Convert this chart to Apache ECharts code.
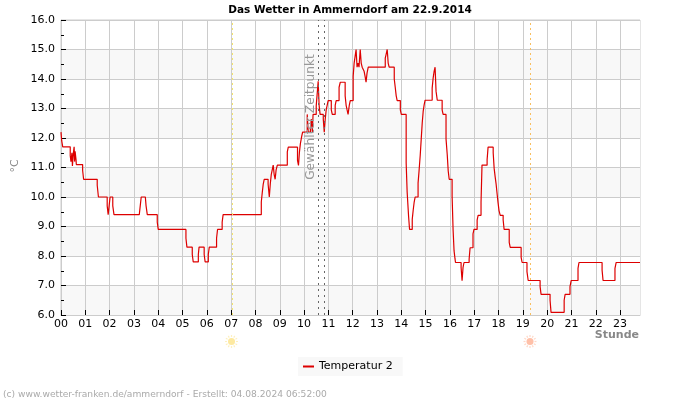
<!DOCTYPE html>
<html><head><meta charset="utf-8">
<style>html,body{margin:0;padding:0;background:#fff}#c{width:700px;height:400px}</style>
<script src="https://cdn.jsdelivr.net/npm/echarts@6/dist/echarts.min.js"></script>
</head><body><div id="c"></div>
<script>
const hourTicks = ['00','01','02','03','04','05','06','07','08','09','10','11','12','13','14','15','16','17','18','19','20','21','22','23'];
const hours = [0,0.03,0.07,0.38,0.41,0.45,0.47,0.51,0.54,0.56,0.58,0.62,0.63,0.89,0.93,0.97,1.49,1.54,1.58,1.9,1.94,1.98,2.02,2.1,2.13,2.18,3.22,3.26,3.3,3.47,3.5,3.55,3.96,4.0,4.05,5.14,5.18,5.22,5.4,5.44,5.48,5.65,5.68,5.73,5.89,5.93,5.97,6.06,6.1,6.14,6.4,6.44,6.48,6.63,6.67,6.72,8.24,8.28,8.32,8.36,8.4,8.52,8.57,8.61,8.65,8.69,8.73,8.77,8.81,8.85,8.9,9.31,9.35,9.39,9.73,9.77,9.81,9.85,9.9,9.94,9.98,10.13,10.17,10.26,10.3,10.34,10.37,10.5,10.58,10.62,10.66,10.79,10.83,10.87,10.91,10.95,10.99,11.12,11.16,11.28,11.32,11.44,11.49,11.69,11.73,11.77,11.81,11.86,11.9,12.02,12.06,12.1,12.14,12.18,12.22,12.26,12.31,12.35,12.39,12.47,12.51,12.55,12.59,12.64,13.34,13.38,13.42,13.46,13.5,13.71,13.75,13.79,13.83,13.96,14.0,14.2,14.24,14.3,14.34,14.45,14.49,14.53,14.57,14.69,14.73,14.78,14.82,14.86,14.9,14.94,14.98,15.27,15.31,15.35,15.39,15.43,15.48,15.68,15.72,15.84,15.89,15.93,15.97,16.09,16.13,16.17,16.21,16.23,16.46,16.5,16.54,16.58,16.79,16.83,16.95,16.99,17.12,17.16,17.28,17.32,17.53,17.57,17.78,17.82,17.86,17.9,17.94,17.98,18.02,18.07,18.19,18.23,18.44,18.48,18.93,18.97,19.17,19.22,19.71,19.75,20.12,20.16,20.7,20.74,20.94,20.99,21.27,21.31,22.26,22.3,22.79,22.84,23.82];
const temps = [12.2,11.9,11.7,11.4,11.2,11.5,11.05,11.5,11.7,11.2,11.55,11.25,11.1,10.9,10.6,10.6,10.4,10.0,10.0,9.7,9.4,9.7,10.0,10.0,9.7,9.4,9.4,9.7,10.0,10.0,9.7,9.4,9.15,8.9,8.9,8.6,8.3,8.3,8.05,7.8,7.8,8.05,8.3,8.3,8.05,7.8,7.8,8.05,8.3,8.3,8.6,8.9,8.9,9.15,9.4,9.4,9.83,10.15,10.44,10.6,10.6,10.44,10.0,10.44,10.76,10.92,11.08,10.76,10.6,10.92,11.08,11.53,11.69,11.69,11.24,11.07,11.53,11.82,12.05,12.2,12.2,12.8,12.2,12.35,12.64,12.2,12.8,13.09,13.92,13.09,12.8,12.64,12.2,12.64,12.95,13.11,13.27,12.95,12.8,13.11,13.27,13.72,13.89,13.43,13.11,12.95,12.8,13.11,13.27,14.09,14.54,14.54,15.0,14.4,14.54,14.4,15.0,14.54,14.4,14.26,14.09,13.89,14.2,14.4,14.71,14.85,15.0,14.54,14.4,14.0,13.72,13.43,13.27,12.95,12.8,11.15,10.18,9.34,8.9,9.24,9.56,9.83,10.0,10.47,10.88,11.43,11.97,12.5,12.9,13.12,13.28,13.69,14.03,14.26,14.4,13.58,13.28,12.95,12.8,11.97,11.43,10.88,10.6,10.03,8.9,8.18,7.9,7.78,7.61,7.16,7.61,7.78,7.89,8.28,8.75,8.9,9.22,9.38,9.81,11.08,11.26,11.69,11.5,10.97,10.69,10.44,10.12,9.81,9.54,9.38,9.22,8.9,8.46,8.29,7.95,7.78,7.47,7.17,6.96,6.7,6.5,6.09,6.5,6.7,6.96,7.17,7.58,7.78,7.52,7.17,7.58,7.78,7.78];
const sunriseHour = 7.04, sunsetHour = 19.3, selectedHours = [10.58, 10.83];
const seriesName = 'Temperatur 2';
const titleText = 'Das Wetter in Ammerndorf am 22.9.2014';
const footer = '(c) www.wetter-franken.de/ammerndorf - Erstellt: 04.08.2024 06:52:00';
const font = '"DejaVu Sans"';

function sun(cx, cy, core, ray) {
  const kids = [{type:'circle', shape:{cx, cy, r:3.5}, style:{fill:core}, silent:true}];
  for (let a = 0; a < 12; a++) {
    const t = a * Math.PI / 6;
    kids.push({type:'line', silent:true, shape:{x1:cx+Math.cos(t)*4.5, y1:cy+Math.sin(t)*4.5, x2:cx+Math.cos(t)*6.5, y2:cy+Math.sin(t)*6.5}, style:{stroke:ray, lineWidth:1.2}});
  }
  return {type:'group', children:kids};
}

const chart = echarts.init(document.getElementById('c'), null, {renderer:'canvas'});
chart.setOption({
  animation:false,
  backgroundColor:'#fff',
  title:{text:titleText, left:'center', top:5, padding:0, textStyle:{fontFamily:font, fontSize:10.5, fontWeight:'bold', color:'#000'}},
  grid:{left:61, right:60, top:20, bottom:85, show:true, borderColor:'#ccc', borderWidth:1, backgroundColor:'transparent'},
  legend:{data:[{name:seriesName, icon:'rect'}], left:298, top:357, itemWidth:11, itemHeight:2, itemGap:5,
    padding:[4,10,4,5], backgroundColor:'#f8f8f8', textStyle:{fontFamily:font, fontSize:11, color:'#000'}},
  xAxis:{type:'value', min:0, max:23.82, interval:1,
    axisLine:{lineStyle:{color:'#ccc'}},
    axisTick:{inside:true, length:5, lineStyle:{color:'#000'}, customValues:hourTicks.map(Number)},
    axisLabel:{fontFamily:font, fontSize:11, color:'#000', margin:4, customValues:hourTicks.map(Number), formatter:v=>hourTicks[v]},
    splitLine:{show:true, lineStyle:{color:'#ccc'}}},
  yAxis:{type:'value', min:6, max:16, interval:1,
    axisLine:{show:true, lineStyle:{color:'#ccc'}},
    axisTick:{show:true, inside:true, length:5, lineStyle:{color:'#000'}},
    minorTick:{show:true, splitNumber:2, length:3, lineStyle:{color:'#000'}},
    axisLabel:{fontFamily:font, fontSize:11, color:'#000', margin:6, formatter:v=>v.toFixed(1)},
    splitLine:{show:true, lineStyle:{color:'#ccc'}},
    splitArea:{show:true, areaStyle:{color:['#f8f8f8','#ffffff']}}},
  series:[{name:seriesName, type:'line', step:'end', showSymbol:false, symbol:'none', color:'#dd0000', lineStyle:{width:1.2, color:'#dd0000'},
    data:hours.map((h,i)=>[h,temps[i]]), z:3,
    markLine:{silent:true, symbol:'none', label:{show:false}, animation:false, data:[
      {xAxis:sunriseHour, lineStyle:{color:'#f5e56b', type:[2,3], width:1}},
      {xAxis:sunsetHour, lineStyle:{color:'#f9bf5f', type:[2,3], width:1}},
      {xAxis:selectedHours[0], lineStyle:{color:'#666', type:[2,4], width:1}},
      {xAxis:selectedHours[1], lineStyle:{color:'#666', type:[2,4], width:1}}
    ]}}],
  graphic:[
    {type:'text', x:311, y:117, rotation:Math.PI/2, silent:true, z:5, style:{text:'Gewählter Zeitpunkt', font:'12.2px '+font, fill:'#999', align:'center', verticalAlign:'middle'}},
    {type:'text', x:15, y:166, rotation:Math.PI/2, silent:true, style:{text:'°C', font:'11px '+font, fill:'#888', align:'center', verticalAlign:'middle'}},
    {type:'text', x:639, y:335, silent:true, style:{text:'Stunde', font:'bold 11px '+font, fill:'#888', align:'right', verticalAlign:'middle'}},
    {type:'text', x:3, y:395, silent:true, style:{text:footer, font:'9.15px '+font, fill:'#aaa', align:'left', verticalAlign:'middle'}},
    sun(231.5, 341.5, '#fde9a0', '#fdf0c0'),
    sun(530, 341.5, '#ffc0a8', '#ffd8c8')
  ]
});
</script></body></html>
